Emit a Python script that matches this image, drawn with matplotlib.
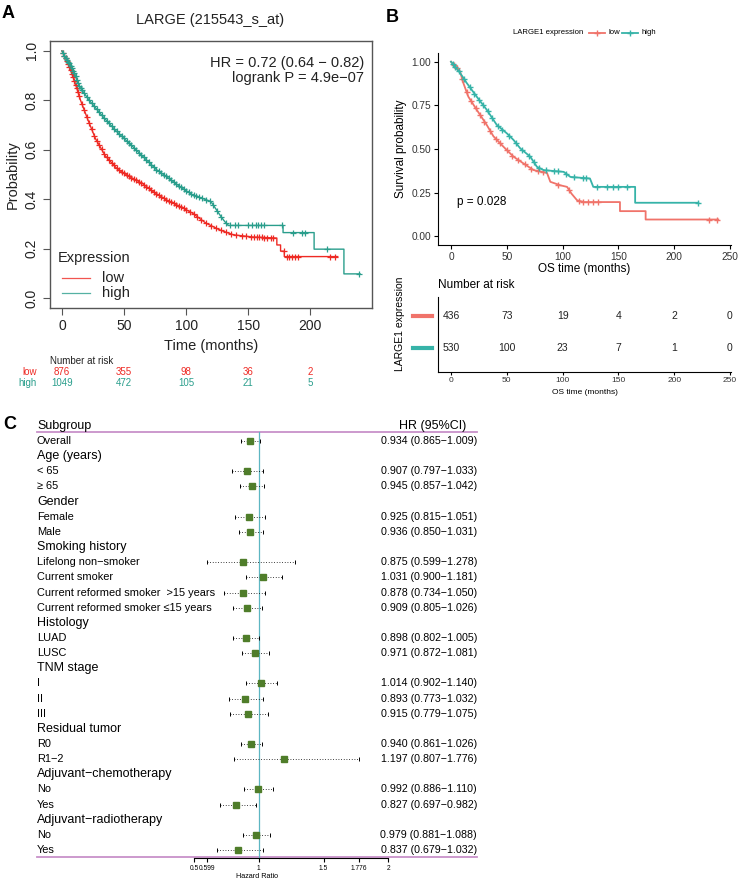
import numpy as np
import matplotlib
matplotlib.use("Agg")
import matplotlib.pyplot as plt
from matplotlib.lines import Line2D
import matplotlib.transforms as mtransforms

# ---------------- data ----------------
# Panel A (KM plotter)
a_low_t = [0, 3, 6, 10, 15, 21, 27, 35, 45, 55, 65, 73, 84, 95, 105, 116, 127, 138, 154, 173, 173, 176, 176, 179, 179, 222]
a_low_s = [1.0, 0.97, 0.935, 0.88, 0.80, 0.72, 0.645, 0.575, 0.52, 0.49, 0.463, 0.432, 0.398, 0.371, 0.344, 0.303, 0.276, 0.256, 0.247, 0.243, 0.215, 0.215, 0.19, 0.19, 0.168, 0.168]
a_high_t = [0, 3, 6, 10, 14, 22, 33, 44, 57, 68, 76, 84, 95, 105, 116, 120, 124, 128, 131, 134, 178, 178, 203, 203, 227, 227, 240]
a_high_s = [1.0, 0.97, 0.95, 0.91, 0.856, 0.80, 0.734, 0.674, 0.613, 0.559, 0.52, 0.492, 0.451, 0.418, 0.398, 0.39, 0.36, 0.33, 0.31, 0.294, 0.294, 0.265, 0.265, 0.198, 0.198, 0.098, 0.098]
a_low_cens = [1, 2, 3, 4, 5, 6, 7, 8, 9, 10, 11, 12, 13, 14, 16, 18, 20, 22, 24, 26, 28, 30, 32, 34, 36, 38, 40, 42, 44,
              46, 48, 50, 52, 54, 56, 58, 60, 62, 64, 66, 68, 70, 72, 74, 76, 78, 80, 82, 84, 86, 88, 90, 92, 94, 96,
              98, 100, 103, 106, 109, 112, 116, 120, 124, 128, 132, 136, 140, 145, 148, 152, 155, 157, 159, 161, 163,
              165, 168, 170, 179, 181, 183, 185, 188, 190, 216, 220]
a_high_cens = [1, 2, 3, 4, 5, 6, 7, 8, 9, 10, 11, 12, 13, 14, 15, 16, 18, 20, 22, 24, 26, 28, 30, 32, 34, 36, 38, 40,
               42, 44, 46, 48, 50, 52, 54, 56, 58, 60, 62, 64, 66, 68, 70, 72, 74, 76, 78, 80, 82, 84, 86, 88, 90, 92,
               94, 96, 98, 100, 102, 104, 106, 108, 110, 113, 116, 119, 122, 125, 128, 132, 135, 139, 142, 150, 153,
               156, 158, 160, 163, 177, 186, 193, 196, 213, 239]
a_risk_times = [0, 50, 100, 150, 200]
a_risk_low = [876, 355, 98, 36, 2]
a_risk_high = [1049, 472, 105, 21, 5]

# Panel B (TCGA)
b_low_t = [0, 8, 11, 15.5, 23, 32, 38, 47, 56, 65, 74, 86, 89, 98, 104, 108, 113, 119, 151.4, 151.4, 174.4, 174.4, 239.5]
b_low_s = [1.0, 0.946, 0.879, 0.80, 0.725, 0.638, 0.573, 0.513, 0.456, 0.417, 0.379, 0.363, 0.312, 0.292, 0.283, 0.244, 0.206, 0.196, 0.196, 0.144, 0.144, 0.096, 0.096]
b_high_t = [0, 8, 14, 23, 32, 41, 50, 56, 62, 71, 77, 83, 101, 107, 124.5, 127.5, 165, 165, 221.6]
b_high_s = [1.0, 0.937, 0.879, 0.80, 0.725, 0.638, 0.59, 0.552, 0.504, 0.456, 0.398, 0.379, 0.369, 0.340, 0.331, 0.283, 0.283, 0.192, 0.192]
b_low_cens = [3, 5, 10, 14, 18, 22, 26, 30, 35, 40, 44, 50, 55, 60, 66, 72, 78, 82, 96, 106, 115, 118, 123, 127, 132, 231, 238]
b_high_cens = [2, 4, 7, 12, 17, 21, 25, 29, 33, 37, 42, 46, 52, 58, 64, 70, 74, 79, 85, 92, 96, 103, 110, 118, 121,
               131, 140, 145, 150, 158, 221]
b_risk_times = [0, 50, 100, 150, 200, 250]
b_risk_low = [436, 73, 19, 4, 2, 0]
b_risk_high = [530, 100, 23, 7, 1, 0]
b_pvalue = "p = 0.028"

# Panel C (forest)
subgroups = ["Overall", "Age (years)", "< 65", "≥ 65", "Gender", "Female", "Male", "Smoking history",
             "Lifelong non−smoker", "Current smoker", "Current reformed smoker  >15 years",
             "Current reformed smoker ≤15 years", "Histology", "LUAD", "LUSC", "TNM stage", "I", "II", "III",
             "Residual tumor", "R0", "R1−2", "Adjuvant−chemotherapy", "No", "Yes", "Adjuvant−radiotherapy", "No", "Yes"]
is_header = [False, True, False, False, True, False, False, True, False, False, False, False, True, False, False,
             True, False, False, False, True, False, False, True, False, False, True, False, False]
hr = [0.934, np.nan, 0.907, 0.945, np.nan, 0.925, 0.936, np.nan, 0.875, 1.031, 0.878, 0.909, np.nan, 0.898, 0.971,
      np.nan, 1.014, 0.893, 0.915, np.nan, 0.940, 1.197, np.nan, 0.992, 0.827, np.nan, 0.979, 0.837]
ci_lo = [0.865, np.nan, 0.797, 0.857, np.nan, 0.815, 0.850, np.nan, 0.599, 0.900, 0.734, 0.805, np.nan, 0.802, 0.872,
         np.nan, 0.902, 0.773, 0.779, np.nan, 0.861, 0.807, np.nan, 0.886, 0.697, np.nan, 0.881, 0.679]
ci_hi = [1.009, np.nan, 1.033, 1.042, np.nan, 1.051, 1.031, np.nan, 1.278, 1.181, 1.050, 1.026, np.nan, 1.005, 1.081,
         np.nan, 1.140, 1.032, 1.075, np.nan, 1.026, 1.776, np.nan, 1.110, 0.982, np.nan, 1.088, 1.032]
forest_ticks = [0.5, 0.599, 1, 1.5, 1.776, 2]
forest_ticklabels = ["0.5", "0.599", "1", "1.5", "1.776", "2"]

# ---------------- styling ----------------
W, H = 753, 891
SANS = ["Liberation Sans", "DejaVu Sans"]
NARROW = ["Liberation Sans Narrow", "Liberation Sans", "DejaVu Sans"]
plt.rcParams["font.family"] = SANS
A_RED, A_TEAL = "#EE2A24", "#2A9E8C"
B_RED, B_TEAL = "#F0736A", "#36B3A8"
GREEN = "#4F7D2A"

fig = plt.figure(figsize=(W / 100, H / 100), dpi=100)
fig.patch.set_facecolor("white")


def px_axes(l, t, r, b):
    return fig.add_axes([l / W, 1 - b / H, (r - l) / W, (b - t) / H])


def ftext(x, y, s, **kw):
    return fig.text(x / W, 1 - y / H, s, **kw)


def fline(x0, x1, y, **kw):
    fig.add_artist(Line2D([x0 / W, x1 / W], [1 - y / H, 1 - y / H], transform=fig.transFigure, **kw))


def censor_y(cens, t, s):
    # value of the drawn curve at each censoring time
    return np.interp(cens, np.array(t) + np.arange(len(t)) * 1e-6, s)


# ---------------- Panel A ----------------
axA = px_axes(50, 41, 372, 308)
axA.set_xlim(-9.6, 249.6)
axA.set_ylim(-0.04, 1.04)
for t, s, c, cens in [(a_low_t, a_low_s, A_RED, a_low_cens), (a_high_t, a_high_s, A_TEAL, a_high_cens)]:
    axA.plot(t, s, color=c, lw=1.0)
    axA.plot(cens, censor_y(cens, t, s), ls="none", marker="+", ms=5, mew=0.9, color=c)
for sp in axA.spines.values():
    sp.set_color("#555555")
    sp.set_linewidth(1.0)
axA.set_xticks([0, 50, 100, 150, 200])
axA.set_yticks([0.0, 0.2, 0.4, 0.6, 0.8, 1.0])
axA.set_yticklabels(["0.0", "0.2", "0.4", "0.6", "0.8", "1.0"], rotation=90, va="center")
axA.tick_params(direction="out", length=5, width=0.8, color="#555555", labelsize=10, labelcolor="#222222", pad=3)
axA.set_xlabel("Time (months)", fontsize=10.5, labelpad=4, color="#222222")
axA.set_ylabel("Probability", fontsize=10.5, labelpad=4, color="#222222")
ftext(210, 20, "LARGE (215543_s_at)", fontsize=10.5, ha="center", va="center", color="#222222")
axA.text(0.975, 0.945, "HR = 0.72 (0.64 − 0.82)\nlogrank P = 4.9e−07", transform=axA.transAxes,
         ha="right", va="top", fontsize=10.5, color="#222222", linespacing=1.15)
ftext(58, 258, "Expression", fontsize=10.5, va="center", color="#222222")
fline(62, 90, 278, color=A_RED, lw=0.9, alpha=0.8)
fline(62, 90, 293, color=A_TEAL, lw=0.9, alpha=0.8)
ftext(102, 278, "low", fontsize=10.5, va="center", color="#222222")
ftext(102, 293, "high", fontsize=10.5, va="center", color="#222222")
ftext(50, 361, "Number at risk", fontsize=7, va="center", color="#222222")
ftext(37, 372, "low", fontsize=7, va="center", ha="right", color=A_RED)
ftext(37, 383, "high", fontsize=7, va="center", ha="right", color=A_TEAL)
trA = mtransforms.blended_transform_factory(axA.transData, fig.transFigure)
for t, n1, n2 in zip(a_risk_times, a_risk_low, a_risk_high):
    axA.text(t, 1 - 372 / H, str(n1), transform=trA, ha="center", va="center", fontsize=7, color=A_RED, clip_on=False)
    axA.text(t, 1 - 383 / H, str(n2), transform=trA, ha="center", va="center", fontsize=7, color=A_TEAL, clip_on=False)

# ---------------- Panel B ----------------
axB = px_axes(438, 53, 731, 245)
axB.set_xlim(-11.66, 250.9)
axB.set_ylim(-0.05, 1.05)
for t, s, c, cens in [(b_low_t, b_low_s, B_RED, b_low_cens), (b_high_t, b_high_s, B_TEAL, b_high_cens)]:
    axB.plot(t, s, color=c, lw=1.3)
    axB.plot(cens, censor_y(cens, t, s), ls="none", marker="+", ms=4.5, mew=1.0, color=c)
axB.spines["top"].set_visible(False)
axB.spines["right"].set_visible(False)
for sp in ["left", "bottom"]:
    axB.spines[sp].set_linewidth(0.8)
axB.set_xticks([0, 50, 100, 150, 200, 250])
axB.set_yticks([0.0, 0.25, 0.5, 0.75, 1.0])
axB.set_yticklabels(["0.00", "0.25", "0.50", "0.75", "1.00"])
axB.tick_params(direction="out", length=3, width=0.8, labelsize=7.3, labelcolor="#333333", pad=2)
axB.set_xlabel("OS time (months)", fontsize=8.5, labelpad=1)
axB.set_ylabel("Survival probability", fontsize=8.5, labelpad=3)
ftext(457, 202, b_pvalue, fontsize=8.5, va="center")
ftext(513, 33, "LARGE1 expression", fontsize=5.6, va="center")
for x0, c, lab in [(589, B_RED, "low"), (622, B_TEAL, "high")]:
    fline(x0, x0 + 16, 33, color=c, lw=1.3)
    fig.add_artist(Line2D([(x0 + 8) / W], [1 - 33 / H], transform=fig.transFigure, marker="+", ms=4, mew=1.0,
                          color=c, ls="none"))
    ftext(x0 + 19.5, 33, lab, fontsize=5.6, va="center")

# risk table
axR = px_axes(438, 297, 731, 372)
axR.set_xlim(-11.66, 250.9)
axR.set_ylim(0.25, 2.594)
axR.spines["top"].set_visible(False)
axR.spines["right"].set_visible(False)
for sp in ["left", "bottom"]:
    axR.spines[sp].set_linewidth(0.8)
axR.set_xticks(b_risk_times)
axR.set_yticks([])
axR.tick_params(axis="x", direction="out", length=2.5, width=0.8, labelsize=6, labelcolor="#333333", pad=1)
for t, n1, n2 in zip(b_risk_times, b_risk_low, b_risk_high):
    axR.text(t, 2, str(n1), ha="center", va="center", fontsize=7.5, color="#222222")
    axR.text(t, 1, str(n2), ha="center", va="center", fontsize=7.5, color="#222222")
trR = mtransforms.blended_transform_factory(fig.transFigure, axR.transData)
for yv, c in [(2, B_RED), (1, B_TEAL)]:
    fig.add_artist(Line2D([413 / W, 432 / W], [yv, yv], transform=trR, color=c, lw=3))
ftext(438, 285, "Number at risk", fontsize=8.5, va="center")
ftext(585, 393, "OS time (months)", fontsize=6, va="center", ha="center")
ftext(400, 324, "LARGE1 expression", fontsize=7.5, va="center", ha="center", rotation=90)

# ---------------- Panel C ----------------
axC = px_axes(37, 416.8, 477, 857.6)
axC.set_xlim(-0.712, 2.685)
axC.set_ylim(27.5, -1.6)
for sp in ["top", "left", "right"]:
    axC.spines[sp].set_visible(False)
axC.spines["bottom"].set_bounds(0.5, 2)
axC.spines["bottom"].set_linewidth(0.8)
axC.set_yticks([])
axC.set_xticks(forest_ticks)
axC.set_xticklabels(forest_ticklabels, family=NARROW)
axC.tick_params(axis="x", direction="out", length=3, width=0.8, labelsize=4.8, pad=2)
axC.set_xlabel("Hazard Ratio", fontsize=5.2, family=NARROW, labelpad=1)
pink = "#C891C9"
axC.plot([-0.712, 2.685], [-0.6, -0.6], color=pink, lw=1.3, clip_on=False)
axC.plot([-0.712, 2.685], [27.45, 27.45], color=pink, lw=1.3, clip_on=False)
axC.plot([1, 1], [-0.6, 27.45], color="#5DB6C2", lw=0.9)
axC.text(-0.712, -1, "Subgroup", ha="left", va="center", fontsize=9, family=NARROW)
axC.text(0.9, -1, "HR (95%CI)", transform=mtransforms.blended_transform_factory(axC.transAxes, axC.transData),
         ha="center", va="center", fontsize=9, family=NARROW)
for i, (lab, hd) in enumerate(zip(subgroups, is_header)):
    axC.text(-0.712, i, lab, ha="left", va="center", fontsize=9 if hd else 7.9, family=NARROW)
    if not hd:
        axC.plot([ci_lo[i], ci_hi[i]], [i, i], color="black", lw=0.6, ls=(0, (1, 2.2)))
        axC.plot([ci_lo[i], ci_hi[i]], [i, i], ls="none", marker="|", ms=3.5, mew=0.7, color="black")
        axC.plot([hr[i]], [i], ls="none", marker="s", ms=5, color=GREEN)
        axC.text(2.685, i, f"{hr[i]:.3f} ({ci_lo[i]:.3f}−{ci_hi[i]:.3f})", ha="right", va="center",
                 fontsize=7.7, family=NARROW)

# panel letters
ftext(8, 14, "A", fontsize=13, fontweight="bold", ha="center", va="center")
ftext(392, 17, "B", fontsize=13, fontweight="bold", ha="center", va="center")
ftext(10, 425, "C", fontsize=13, fontweight="bold", ha="center", va="center")

fig.savefig("out.png", dpi=100, facecolor="white")
